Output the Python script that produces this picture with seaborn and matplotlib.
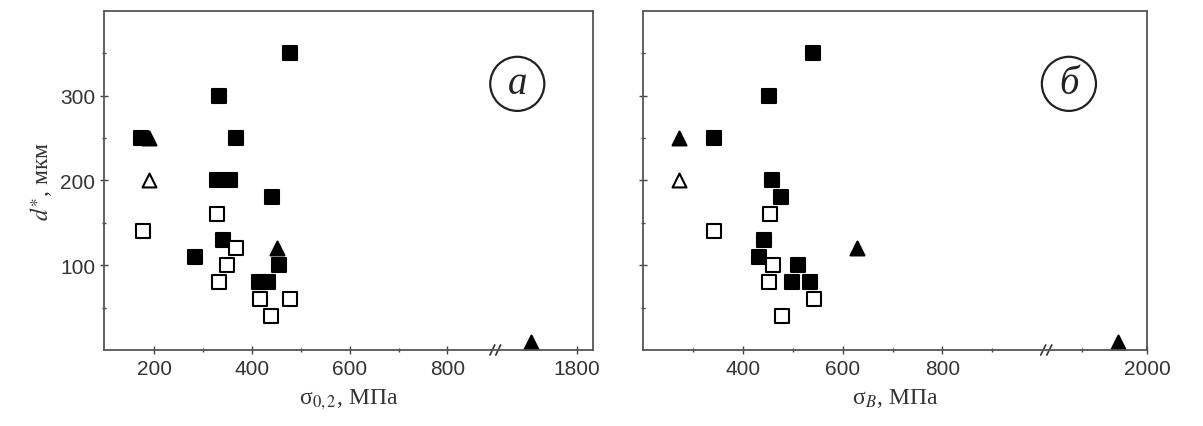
import numpy as np
import pandas as pd
import matplotlib
matplotlib.use("Agg")
import matplotlib.pyplot as plt
from matplotlib.ticker import FixedLocator, NullFormatter
import seaborn as sns

sns.set_style("ticks")
plt.rcParams["font.family"] = ["Liberation Sans", "DejaVu Sans"]
plt.rcParams["mathtext.fontset"] = "stix"

# panel a: d* vs yield strength sigma_0.2
a_fsq_x = [477, 333, 173, 367, 328, 355, 441, 340, 284, 455, 415, 432]
a_fsq_y = [350, 300, 250, 250, 200, 200, 180, 130, 110, 100, 80, 80]
a_osq_x = [176, 328, 367, 349, 332, 417, 478, 439]
a_osq_y = [140, 160, 120, 100, 80, 60, 60, 40]
a_ftri_x = [190, 450, 1705]
a_ftri_y = [250, 120, 10]
a_otri_x = [190]
a_otri_y = [200]

# panel b: d* vs ultimate strength sigma_B
b_fsq_x = [540, 452, 342, 458, 476, 442, 432, 510, 499, 534]
b_fsq_y = [350, 300, 250, 200, 180, 130, 110, 100, 80, 80]
b_osq_x = [342, 454, 461, 453, 543, 478]
b_osq_y = [140, 160, 100, 80, 60, 40]
b_ftri_x = [272, 628, 1955]
b_ftri_y = [250, 120, 10]
b_otri_x = [272]
b_otri_y = [200]

a_major = [200, 400, 600, 800, 1800]
a_minor = [300, 500, 700]
b_major = [400, 600, 800, 2000]
b_minor = [300, 500, 700, 900, 1900]


def broken(knots_x, knots_t):
    fwd = lambda x: np.interp(x, knots_x, knots_t)
    inv = lambda t: np.interp(t, knots_t, knots_x)
    return fwd, inv


def panel(ax, fsq, osq, ftri, otri, scale, xlim, major, minor, letter, xlabel, ylab):
    ax.set_xscale("function", functions=scale)
    kw = dict(ax=ax, s=100, linewidth=1.5, edgecolor="black", legend=False)
    sns.scatterplot(x=fsq[0], y=fsq[1], marker="s", color="black", **kw)
    sns.scatterplot(x=osq[0], y=osq[1], marker="s", color="white", **kw)
    sns.scatterplot(x=ftri[0], y=ftri[1], marker="^", color="black", **kw)
    sns.scatterplot(x=otri[0], y=otri[1], marker="^", color="white", **kw)
    ax.set_xlim(*xlim)
    ax.set_ylim(0, 400)
    ax.xaxis.set_major_locator(FixedLocator(major))
    ax.xaxis.set_minor_locator(FixedLocator(minor))
    ax.xaxis.set_minor_formatter(NullFormatter())
    ax.yaxis.set_major_locator(FixedLocator([100, 200, 300]))
    ax.yaxis.set_minor_locator(FixedLocator([50, 150, 250, 350]))
    ax.tick_params(which="major", direction="inout", length=6, width=1, labelsize=15,
                   colors="#444444", labelcolor="#333333")
    ax.tick_params(which="minor", direction="inout", length=3.5, width=1, colors="#444444")
    for sp in ax.spines.values():
        sp.set_linewidth(1.3)
        sp.set_color("#555555")
    ax.set_xlabel(xlabel, fontsize=17, family="Liberation Serif", labelpad=6, color="#333333")
    if ylab:
        ax.set_ylabel(ylab, fontsize=17, family="Liberation Serif", labelpad=4, color="#333333")
    else:
        ax.set_ylabel("")
        ax.tick_params(axis="y", labelleft=False)
    # axis break marks
    for dx in (-0.006, 0.006):
        ax.plot([0.80 + dx - 0.005, 0.80 + dx + 0.005], [-0.015, 0.015],
                transform=ax.transAxes, color="#333333", lw=1.2, clip_on=False)
    ax.text(0.845, 0.785, letter, transform=ax.transAxes, ha="center", va="center",
            fontsize=28, family="Liberation Serif", style="italic", color="#222222",
            bbox=dict(boxstyle="circle,pad=0.22", fc="white", ec="#222222", lw=1.6))


fig = plt.figure(figsize=(12.03, 4.27), dpi=100)
ax1 = fig.add_axes([0.0865, 0.178, 0.4065, 0.794])
ax2 = fig.add_axes([0.5345, 0.178, 0.419, 0.794])

panel(ax1, (a_fsq_x, a_fsq_y), (a_osq_x, a_osq_y), (a_ftri_x, a_ftri_y), (a_otri_x, a_otri_y),
      broken([0, 900, 1640, 2200], [0, 900, 905, 1465]), (97, 1833), a_major, a_minor,
      "а", "σ$_{0,2}$, МПа", r"$d^{\ast}$, мкм")
panel(ax2, (b_fsq_x, b_fsq_y), (b_osq_x, b_osq_y), (b_ftri_x, b_ftri_y), (b_otri_x, b_otri_y),
      broken([0, 1000, 1850, 2100], [0, 1000, 1015, 1340]), (200, 2000), b_major, b_minor,
      "б", "σ$_{B}$, МПа", None)

fig.savefig("out.png", dpi=100)
